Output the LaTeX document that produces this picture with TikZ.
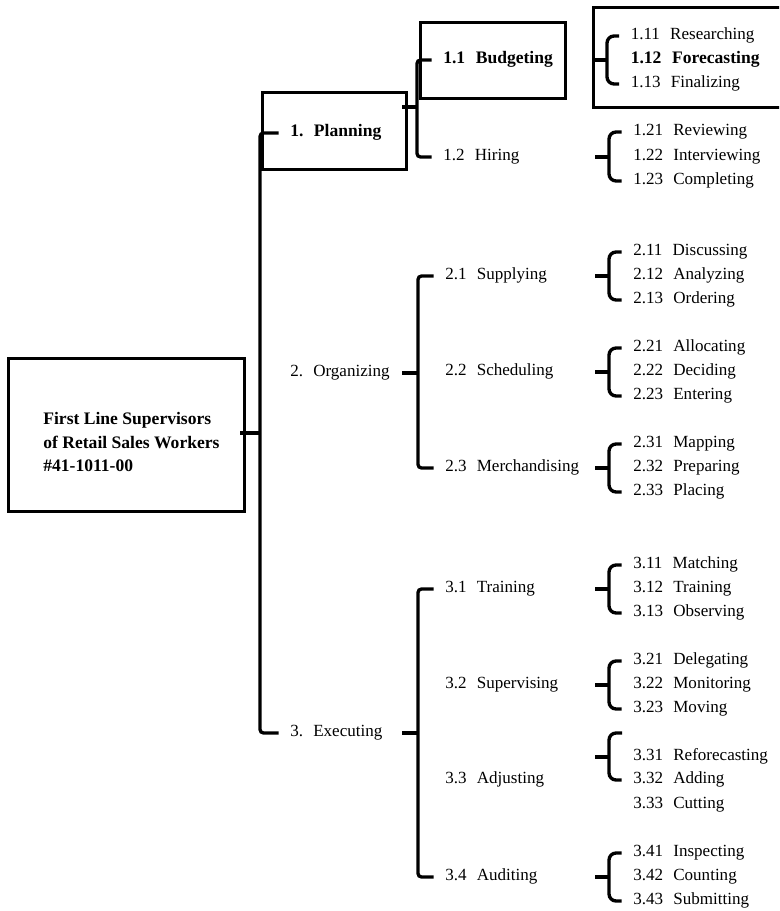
\documentclass[tikz,border=0pt]{standalone}
\usepackage{fontspec}
\setmainfont{Liberation Serif}

\newcommand{\nm}[2]{#1\hspace{0.6em}#2}
% style, spine point, first child, last child, tick length
\newcommand{\fork}[5]{%
  \draw[#1] (#3.west) -| (#2) |- (#4.west);
  \draw[#1] (#2) -- ++(-#5,0);}

\begin{document}
\begin{tikzpicture}[x=0.02cm, y=-0.02cm,
    lbl/.style={anchor=west, inner xsep=6.5pt, inner ysep=0pt, text height=6.5pt, text depth=2pt, font=\fontsize{9.7}{12}\selectfont},
    bx/.style={draw, line width=1.7pt, inner sep=0pt},
    bigbrk/.style={line width=1.9pt, rounded corners=2pt},
    brk/.style={line width=1.9pt, rounded corners=4pt}]
    \useasboundingbox (0,0) rectangle (779,911);
    \clip (0,0) rectangle (779,911);

    % boxes
    \node[bx, minimum width=134.4pt, minimum height=87.3pt] (rootbox) at (126.5,435) {};
    \node[bx, minimum width=82.2pt, minimum height=44.2pt] (planbox) at (334.5,131) {};
    \node[bx, minimum width=82.8pt, minimum height=43.7pt] (budbox) at (493,60.5) {};
    \node[bx, minimum width=111.7pt, minimum height=57.3pt] (resbox) at (691.5,57.5) {};

    \node[anchor=west, align=left, inner sep=0pt, font=\bfseries\fontsize{10}{13.6}\selectfont] (root) at (43,442)
        {First Line Supervisors\\of Retail Sales Workers\\\#41-1011-00};

    % first level
    \node[lbl, font=\bfseries\fontsize{10}{12}\selectfont] (plan) at (278.5,133) {\nm{1.}{Planning}};
    \node[lbl] (org) at (278.5,373) {\nm{2.}{Organizing}};
    \node[lbl] (exe) at (278.5,733) {\nm{3.}{Executing}};

    % second level
    \node[lbl, font=\bfseries\fontsize{10}{12}\selectfont] (b11) at (431.5,60) {\nm{1.1}{Budgeting}};
    \node[lbl] (b12) at (431.5,157) {\nm{1.2}{Hiring}};
    \node[lbl] (o21) at (433.5,276) {\nm{2.1}{Supplying}};
    \node[lbl] (o22) at (433.5,372) {\nm{2.2}{Scheduling}};
    \node[lbl] (o23) at (433.5,468) {\nm{2.3}{Merchandising}};
    \node[lbl] (e31) at (433.5,589) {\nm{3.1}{Training}};
    \node[lbl] (e32) at (433.5,685) {\nm{3.2}{Supervising}};
    \node[lbl] (e33) at (433.5,780) {\nm{3.3}{Adjusting}};
    \node[lbl] (e34) at (433.5,877) {\nm{3.4}{Auditing}};

    % third level
    \node[lbl] (a111) at (619,36) {\nm{1.11}{Researching}};
    \node[lbl, font=\bfseries\fontsize{10}{12}\selectfont] (a112) at (619,60) {\nm{1.12}{Forecasting}};
    \node[lbl] (a113) at (619,84) {\nm{1.13}{Finalizing}};
    \node[lbl] (a121) at (621.5,132) {\nm{1.21}{Reviewing}};
    \node[lbl] (a122) at (621.5,157) {\nm{1.22}{Interviewing}};
    \node[lbl] (a123) at (621.5,181) {\nm{1.23}{Completing}};
    \node[lbl] (a211) at (621.5,252) {\nm{2.11}{Discussing}};
    \node[lbl] (a212) at (621.5,276) {\nm{2.12}{Analyzing}};
    \node[lbl] (a213) at (621.5,300) {\nm{2.13}{Ordering}};
    \node[lbl] (a221) at (621.5,348) {\nm{2.21}{Allocating}};
    \node[lbl] (a222) at (621.5,372) {\nm{2.22}{Deciding}};
    \node[lbl] (a223) at (621.5,396) {\nm{2.23}{Entering}};
    \node[lbl] (a231) at (621.5,444) {\nm{2.31}{Mapping}};
    \node[lbl] (a232) at (621.5,468) {\nm{2.32}{Preparing}};
    \node[lbl] (a233) at (621.5,492) {\nm{2.33}{Placing}};
    \node[lbl] (a311) at (621.5,565) {\nm{3.11}{Matching}};
    \node[lbl] (a312) at (621.5,589) {\nm{3.12}{Training}};
    \node[lbl] (a313) at (621.5,613) {\nm{3.13}{Observing}};
    \node[lbl] (a321) at (621.5,661) {\nm{3.21}{Delegating}};
    \node[lbl] (a322) at (621.5,685) {\nm{3.22}{Monitoring}};
    \node[lbl] (a323) at (621.5,709) {\nm{3.23}{Moving}};
    \node[lbl] (a331) at (621.5,757) {\nm{3.31}{Reforecasting}};
    \node[lbl] (a332) at (621.5,780) {\nm{3.32}{Adding}};
    \node[lbl] (a333) at (621.5,805) {\nm{3.33}{Cutting}};
    \node[lbl] (a341) at (621.5,853) {\nm{3.41}{Inspecting}};
    \node[lbl] (a342) at (621.5,877) {\nm{3.42}{Counting}};
    \node[lbl] (a343) at (621.5,901) {\nm{3.43}{Submitting}};

    % spines
    \coordinate (k0) at (260,433);
    \coordinate (k1) at (417,107);
    \coordinate (k2) at (418,373);
    \coordinate (k3) at (418,733);
    \coordinate (k11) at (607,60);
    \coordinate (k12) at (609,157);
    \coordinate (k21) at (609,276);
    \coordinate (k22) at (609,372);
    \coordinate (k23) at (609,468);
    \coordinate (k31) at (609,589);
    \coordinate (k32) at (609,685);
    \coordinate (k33) at (609,757);
    \coordinate (k34) at (609,877);
    \coordinate (t33) at (622,733);

    \fork{bigbrk}{k0}{plan}{exe}{20}
    \fork{bigbrk}{k1}{b11}{b12}{15}
    \fork{bigbrk}{k2}{o21}{o23}{16}
    \fork{bigbrk}{k3}{e31}{e34}{16}
    \fork{brk}{k11}{a111}{a113}{13}
    \fork{brk}{k12}{a121}{a123}{14}
    \fork{brk}{k21}{a211}{a213}{14}
    \fork{brk}{k22}{a221}{a223}{14}
    \fork{brk}{k23}{a231}{a233}{14}
    \fork{brk}{k31}{a311}{a313}{14}
    \fork{brk}{k32}{a321}{a323}{14}
    \draw[brk] (t33) -| (k33) |- (a332.west);
    \draw[brk] (k33) -- ++(-14,0);
    \fork{brk}{k34}{a341}{a343}{14}
\end{tikzpicture}
\end{document}
